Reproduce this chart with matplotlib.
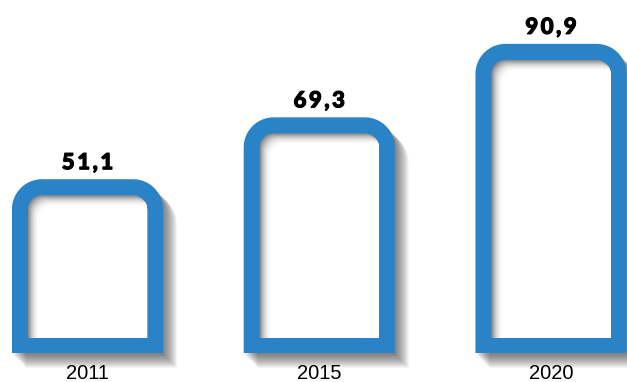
import numpy as np
import matplotlib
matplotlib.use('Agg')
import matplotlib.pyplot as plt
import matplotlib.patheffects as pe
from matplotlib.patches import Polygon

YEARS = ['2011', '2015', '2020']
VALUES = [51.1, 69.3, 90.9]
VALUE_LABELS = ['51,1', '69,3', '90,9']

BLUE = '#2a83c6'
W, H = 627, 382
XLIM = (-0.3776, 2.328)
YLIM = (-8.53, 103.8)
BAR_W = 0.652

fig = plt.figure(figsize=(W / 100, H / 100), dpi=100)
ax = fig.add_axes([0, 0, 1, 1])
ax.set_xlim(*XLIM)
ax.set_ylim(*YLIM)
ax.axis('off')
renderer = fig.canvas.get_renderer()

# pixels per data unit, so corners come out round
sx = W / (XLIM[1] - XLIM[0])
sy = H / (YLIM[1] - YLIM[0])


def top_rounded(xl, xr, yb, yt, r, dx=0, dy=0):
    rx, ry = r / sx, r / sy
    xl, xr = xl + dx / sx, xr + dx / sx
    yb, yt = yb - dy / sy, yt - dy / sy
    a = np.linspace(0, np.pi / 2, 24)
    right = np.column_stack([xr - rx + rx * np.cos(a), yt - ry + ry * np.sin(a)])
    b = np.linspace(np.pi / 2, np.pi, 24)
    left = np.column_stack([xl + rx + rx * np.cos(b), yt - ry + ry * np.sin(b)])
    return np.vstack([[xl, yb], [xr, yb], right, left])


def spaced_text(x, y, s, gap, **kw):
    # matplotlib has no letter spacing, so lay the characters out one by one
    widths = []
    for ch in s:
        t = ax.text(0, 0, ch, **kw)
        widths.append(t.get_window_extent(renderer).width)
        t.remove()
    pos = -(sum(widths) + gap * (len(s) - 1)) / 2
    for ch, w in zip(s, widths):
        ax.annotate(ch, (x, y), xytext=(pos * 0.72, 0), textcoords='offset points',
                    ha='left', va='baseline', **kw)
        pos += w + gap


for i, (v, lab, yr) in enumerate(zip(VALUES, VALUE_LABELS, YEARS)):
    xl, xr = i - BAR_W / 2, i + BAR_W / 2

    # soft drop shadow
    for off in range(1, 15):
        ax.add_patch(Polygon(top_rounded(xl, xr, 0, v, 30, off, off + 1),
                             closed=True, fc='black', ec='none', alpha=0.045, zorder=1))

    ax.add_patch(Polygon(top_rounded(xl, xr, 0, v, 30), closed=True,
                         fc=BLUE, ec='none', zorder=2))

    il, ir = xl + 16 / sx, xr - 16 / sx
    ib, it = 15 / sy, v - 16 / sy
    inner = Polygon(top_rounded(il, ir, ib, it, 14), closed=True,
                    fc='#8a8a8a', ec='none', zorder=3)
    ax.add_patch(inner)

    # inner shadow along top and left edge
    steps = 11
    for s in range(1, steps + 1):
        g = 0.54 + 0.46 * (1 - (1 - s / steps) ** 2)
        p = Polygon(top_rounded(il, ir, ib, it, 14, s, s), closed=True,
                    fc=(g, g, g), ec='none', zorder=4)
        ax.add_patch(p)
        p.set_clip_path(inner)

    spaced_text(i, v + 10 / sy, lab, 2.5, fontsize=16, fontweight=900, family='Lato',
                color='black', zorder=5,
                path_effects=[pe.withStroke(linewidth=0.8, foreground='black')])
    ax.text(i, -26 / sy, yr, ha='center', va='baseline',
            fontsize=14.5, family='Liberation Sans', color='black', zorder=5)

fig.savefig('out.png', dpi=100, facecolor='white')
